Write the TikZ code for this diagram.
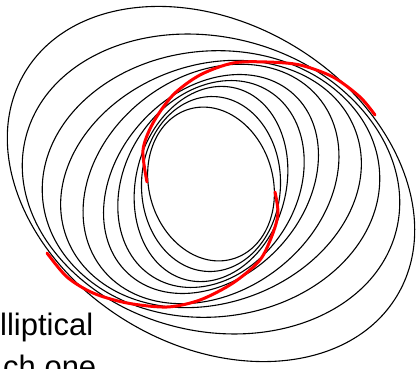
\documentclass[tikz,border=0pt]{standalone}
\usepackage{fontspec}
\setmainfont{Liberation Sans}
\begin{document}
\begin{tikzpicture}[x=1pt,y=1pt,
  orbit/.style={draw=black,line width=1.1pt},
  arm/.style={draw=red,line width=3pt,line cap=round},
  caption/.style={anchor=base west, inner sep=0pt, font=\fontsize{31}{36}\selectfont}]
\useasboundingbox (0,0) rectangle (417,368);
\clip (0,0) rectangle (417,368);
\coordinate (c) at (211,184);
\foreach \a/\b/\t in {78/62/106, 87.5/69.5/88, 99/75/75, 109.5/86/58, 122/93/47, 138/108/37, 154/119/20, 169/133/5, 191/147/-14, 217/161/-31}{
  \draw[orbit, rotate around={\t:(c)}] (c) ellipse [x radius=\a, y radius=\b];
}
\draw[arm] plot[smooth] coordinates {(147,186) (143,218) (153,245) (173,273) (200,293) (233,305) (267,306) (300,303) (333,291) (360,271) (375,253)};
\draw[arm] plot[smooth] coordinates {(275,176) (278,155) (273,135) (260,108) (233,85) (200,68) (167,61) (127,65) (93,75) (67,91) (47,115)};
\node[caption] (t1) at (0,33) {lliptical};
\node[caption] (t2) at (3,-9) {ch one};
\end{tikzpicture}
\end{document}
